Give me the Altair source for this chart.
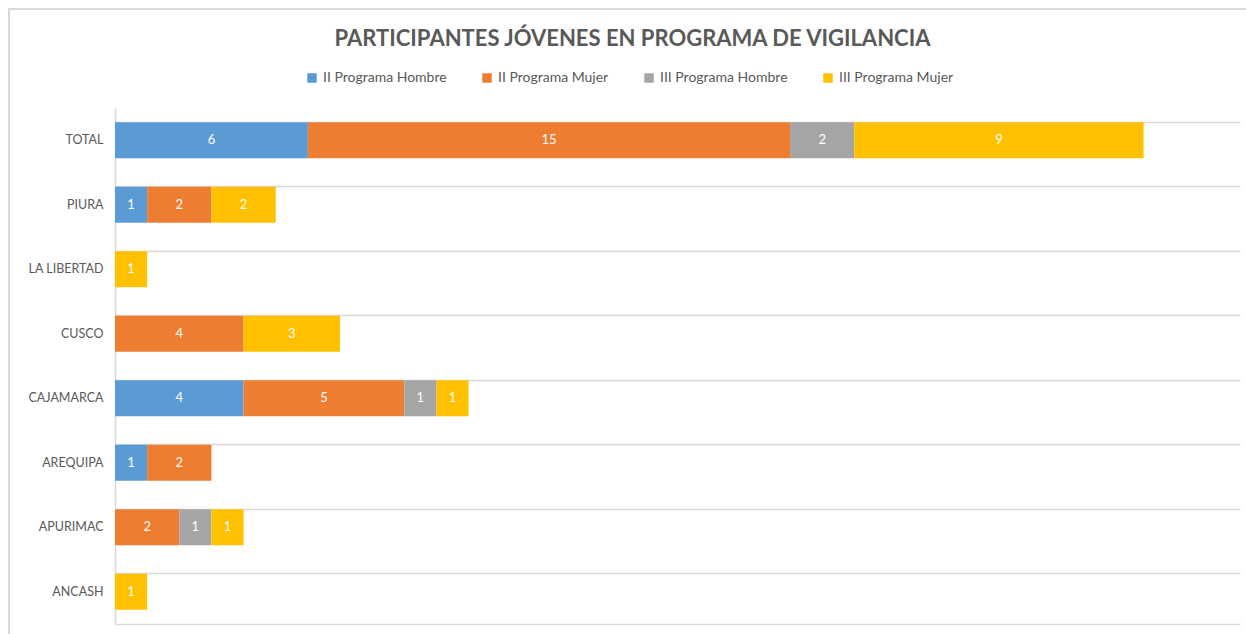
import altair as alt
import pandas as pd

categories = ["TOTAL", "PIURA", "LA LIBERTAD", "CUSCO", "CAJAMARCA", "AREQUIPA", "APURIMAC", "ANCASH"]
series = ["II Programa Hombre", "II Programa Mujer", "III Programa Hombre", "III Programa Mujer"]
colors = ["#5B9BD5", "#ED7D31", "#A5A5A5", "#FFC000"]

ii_hombre = [6, 1, 0, 0, 4, 1, 0, 0]
ii_mujer = [15, 2, 0, 4, 5, 2, 2, 0]
iii_hombre = [2, 0, 0, 0, 1, 0, 1, 0]
iii_mujer = [9, 2, 1, 3, 1, 0, 1, 1]

rows = []
for si, (s, vals) in enumerate(zip(series, [ii_hombre, ii_mujer, iii_hombre, iii_mujer])):
    for c, v in zip(categories, vals):
        if v > 0:
            rows.append({"region": c, "serie": s, "valor": v, "orden": si})
df = pd.DataFrame(rows)

FONT = "Lato"
GRAY = "#595959"
LINE = "#D9D9D9"

base = alt.Chart(df).transform_stack(
    stack="valor", groupby=["region"], as_=["x0", "x1"],
    sort=[alt.SortField("orden", order="ascending")]
).transform_calculate(mid="(datum.x0 + datum.x1) / 2")

yenc = alt.Y(
    "region:N", sort=categories, title=None,
    scale=alt.Scale(paddingInner=0.44, paddingOuter=0.22),
    axis=alt.Axis(
        bandPosition=0, grid=True, gridColor=LINE, gridWidth=1.5,
        domain=True, domainColor=LINE, domainWidth=1.5, ticks=False,
        labelFont=FONT, labelFontSize=12.5, labelColor=GRAY, labelPadding=12,
    ),
)

xscale = alt.Scale(domain=[0, 35], nice=False, zero=True)

bars = base.mark_bar().encode(
    x=alt.X("x0:Q", scale=xscale, title=None,
            axis=alt.Axis(labels=False, ticks=False, grid=False, domain=True,
                          domainColor=LINE, domainWidth=1.5)),
    x2="x1:Q",
    y=yenc,
    color=alt.Color(
        "serie:N", scale=alt.Scale(domain=series, range=colors), title=None,
        legend=alt.Legend(
            orient="none", legendX=190, legendY=-37, direction="horizontal",
            columns=4, columnPadding=33, symbolType="square", symbolSize=90,
            symbolStrokeWidth=0, labelFont=FONT, labelFontSize=14,
            labelColor=GRAY, labelLimit=300,
        ),
    ),
)

labels = base.mark_text(color="white", font=FONT, fontSize=13, baseline="middle").encode(
    x=alt.X("mid:Q", scale=xscale),
    y=alt.Y("region:N", sort=categories),
    text="valor:Q",
)

frame = alt.Chart(pd.DataFrame({"k": [0]})).mark_rect(
    fill=None, stroke=LINE, strokeWidth=2, clip=False
).encode(
    x=alt.value(-106), x2=alt.value(1160), y=alt.value(-99), y2=alt.value(560)
)

chart = alt.layer(frame, bars, labels).properties(
    width=1125, height=516,
    background="white",
    title=alt.TitleParams(
        "PARTICIPANTES JÓVENES EN PROGRAMA DE VIGILANCIA",
        font=FONT, fontSize=22, fontWeight="bold", color=GRAY,
        anchor="middle", frame="group", offset=10, dy=53, dx=-45,
    ),
    padding={"left": 115, "top": 108, "right": 6, "bottom": 10},
    autosize=alt.AutoSizeParams(type="none"),
).configure_view(strokeWidth=0, stroke="transparent")

chart.save("out.html", embed_options={"renderer": "svg", "actions": False})
